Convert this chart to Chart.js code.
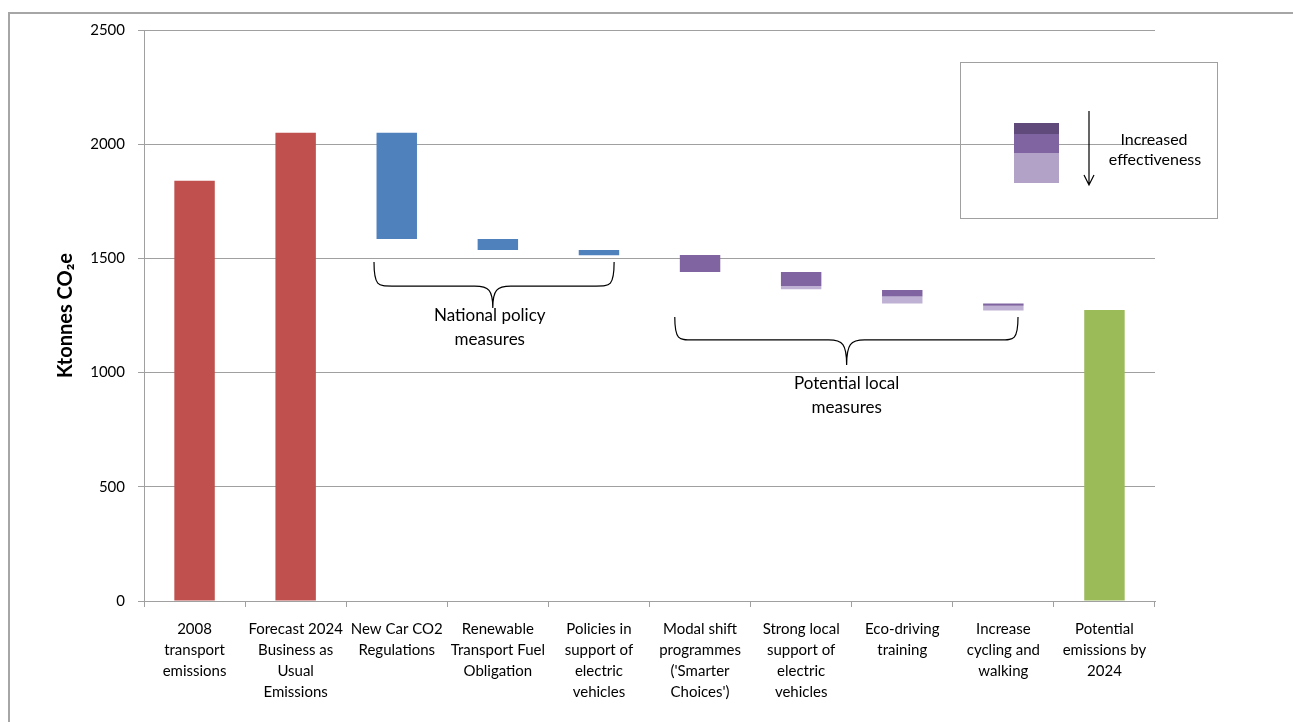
<!DOCTYPE html>
<html>
<head>
<meta charset="utf-8">
<script src="https://cdn.jsdelivr.net/npm/chart.js@4"></script>
<style>
    body { margin: 0; background: #fff; }
    canvas { display: block; }
</style>
</head>
<body>
<canvas id="wedgeChart" width="1293" height="722"></canvas>
<script>
// category labels, one array per wrapped label
const categories = [
    ['2008', 'transport', 'emissions'],
    ['Forecast 2024', 'Business as', 'Usual', 'Emissions'],
    ['New Car CO2', 'Regulations'],
    ['Renewable', 'Transport Fuel', 'Obligation'],
    ['Policies in', 'support of', 'electric', 'vehicles'],
    ['Modal shift', 'programmes', "('Smarter", "Choices')"],
    ['Strong local', 'support of', 'electric', 'vehicles'],
    ['Eco-driving', 'training'],
    ['Increase', 'cycling and', 'walking'],
    ['Potential', 'emissions by', '2024']
];

const yTicks = [0, 500, 1000, 1500, 2000, 2500];

// totals (Ktonnes CO2e)
const emissions2008 = 1840;
const forecast2024 = 2050;
const potential2024 = 1274;

// national policy measures: bar from low to high
const nationalHigh = [2050, 1585, 1537];
const nationalLow = [1585, 1537, 1514];

// local measures: high -> mid is the more effective part, mid -> low the less effective part
const localHigh = [1515, 1440, 1362, 1302];
const localMid = [1440, 1379, 1333, 1293];
const localLow = [1440, 1365, 1303, 1272];

const red = '#C0504D';
const blue = '#4F81BD';
const purple = '#8064A2';
const lilac = '#BFB1D4';
const green = '#9BBB59';
const gridGrey = '#A0A0A0';

function emptyRow() {
    return categories.map(function () { return null; });
}

const totalsRed = emptyRow();
totalsRed[0] = [0, emissions2008];
totalsRed[1] = [0, forecast2024];

const nationalBars = emptyRow();
nationalHigh.forEach(function (v, i) { nationalBars[2 + i] = [nationalLow[i], v]; });

const localStrong = emptyRow();
const localWeak = emptyRow();
localHigh.forEach(function (v, i) {
    localStrong[5 + i] = [localMid[i], v];
    if (localLow[i] < localMid[i]) localWeak[5 + i] = [localLow[i], localMid[i]];
});

const totalsGreen = emptyRow();
totalsGreen[9] = [0, potential2024];

function brace(ctx, x1, x2, xc, yTop, yMid, yTip) {
    const r = 18;
    ctx.beginPath();
    ctx.moveTo(x1, yTop);
    ctx.bezierCurveTo(x1, yMid, x1 + 4, yMid, x1 + r, yMid);
    ctx.lineTo(xc - r, yMid);
    ctx.bezierCurveTo(xc - 4, yMid, xc, yMid + 4, xc, yTip);
    ctx.bezierCurveTo(xc, yMid + 4, xc + 4, yMid, xc + r, yMid);
    ctx.lineTo(x2 - r, yMid);
    ctx.bezierCurveTo(x2 - 4, yMid, x2, yMid, x2, yTop);
    ctx.stroke();
}

const decorations = {
    id: 'decorations',
    beforeDraw: function (chart) {
        const ctx = chart.ctx;
        ctx.save();
        ctx.fillStyle = '#fff';
        ctx.fillRect(0, 0, chart.width, chart.height);
        // outer frame
        ctx.strokeStyle = '#A6A6A6';
        ctx.lineWidth = 2;
        ctx.beginPath();
        ctx.moveTo(9, chart.height);
        ctx.lineTo(9, 13);
        ctx.lineTo(chart.width, 13);
        ctx.stroke();
        ctx.restore();
    },
    afterDraw: function (chart) {
        const ctx = chart.ctx;
        const x = chart.scales.x;
        const y = chart.scales.y;
        ctx.save();
        ctx.strokeStyle = '#000';
        ctx.lineWidth = 1.2;
        brace(ctx, x.getPixelForValue(1.775), x.getPixelForValue(4.15), x.getPixelForValue(2.95),
            y.getPixelForValue(1484), y.getPixelForValue(1379), y.getPixelForValue(1283));
        brace(ctx, x.getPixelForValue(4.75), x.getPixelForValue(8.145), x.getPixelForValue(6.45),
            y.getPixelForValue(1243), y.getPixelForValue(1143), y.getPixelForValue(1033));

        ctx.fillStyle = '#000';
        ctx.font = '17px Lato';
        ctx.textAlign = 'center';
        ctx.textBaseline = 'middle';
        ctx.fillText('National policy', x.getPixelForValue(2.92), y.getPixelForValue(1248));
        ctx.fillText('measures', x.getPixelForValue(2.92), y.getPixelForValue(1143));
        ctx.fillText('Potential local', x.getPixelForValue(6.45), y.getPixelForValue(954));
        ctx.fillText('measures', x.getPixelForValue(6.45), y.getPixelForValue(845));

        // key box
        ctx.strokeStyle = '#A0A0A0';
        ctx.lineWidth = 1;
        ctx.strokeRect(960.5, 62.5, 257, 156);
        ctx.fillStyle = '#604A7B';
        ctx.fillRect(1014, 123, 45, 11);
        ctx.fillStyle = purple;
        ctx.fillRect(1014, 134, 45, 19);
        ctx.fillStyle = '#B3A2C7';
        ctx.fillRect(1014, 153, 45, 30);

        ctx.strokeStyle = '#000';
        ctx.lineWidth = 1.2;
        ctx.beginPath();
        ctx.moveTo(1089, 111);
        ctx.lineTo(1089, 185);
        ctx.moveTo(1084, 175);
        ctx.lineTo(1089, 185);
        ctx.lineTo(1094, 175);
        ctx.stroke();

        ctx.fillStyle = '#000';
        ctx.font = '16px Lato';
        ctx.fillText('Increased', 1154, 140);
        ctx.fillText('effectiveness', 1155, 160);
        ctx.restore();
    }
};

new Chart(document.getElementById('wedgeChart'), {
    type: 'bar',
    data: {
        labels: categories,
        datasets: [
            { data: totalsRed, backgroundColor: red },
            { data: nationalBars, backgroundColor: blue },
            { data: localStrong, backgroundColor: purple },
            { data: localWeak, backgroundColor: lilac },
            { data: totalsGreen, backgroundColor: green }
        ]
    },
    options: {
        responsive: false,
        animation: false,
        barPercentage: 0.4,
        categoryPercentage: 1,
        layout: {
            padding: { top: 30, right: 138, left: 0, bottom: 0 }
        },
        plugins: {
            legend: { display: false },
            tooltip: { enabled: false }
        },
        scales: {
            x: {
                stacked: true,
                afterFit: function (scale) { scale.height = 121; },
                grid: {
                    offset: true,
                    drawOnChartArea: false,
                    color: gridGrey,
                    tickLength: 6
                },
                border: { color: gridGrey },
                ticks: {
                    maxRotation: 0,
                    autoSkip: false,
                    padding: 12,
                    color: '#000',
                    font: { family: 'Lato', size: 15, lineHeight: 1.4 }
                }
            },
            y: {
                stacked: false,
                min: 0,
                max: 2500,
                afterFit: function (scale) { scale.width = 144; },
                afterBuildTicks: function (scale) {
                    scale.ticks = yTicks.map(function (v) { return { value: v }; });
                },
                grid: {
                    color: gridGrey,
                    tickLength: 6
                },
                border: { color: gridGrey },
                ticks: {
                    padding: 13,
                    color: '#000',
                    font: { family: 'Lato', size: 15 },
                    callback: function (value) { return String(value); }
                },
                title: {
                    display: true,
                    text: 'Ktonnes CO\u2082e',
                    color: '#000',
                    padding: { top: 54, bottom: 0 },
                    font: { family: 'Lato', size: 20, weight: 'bold' }
                }
            }
        }
    },
    plugins: [decorations]
});
</script>
</body>
</html>
